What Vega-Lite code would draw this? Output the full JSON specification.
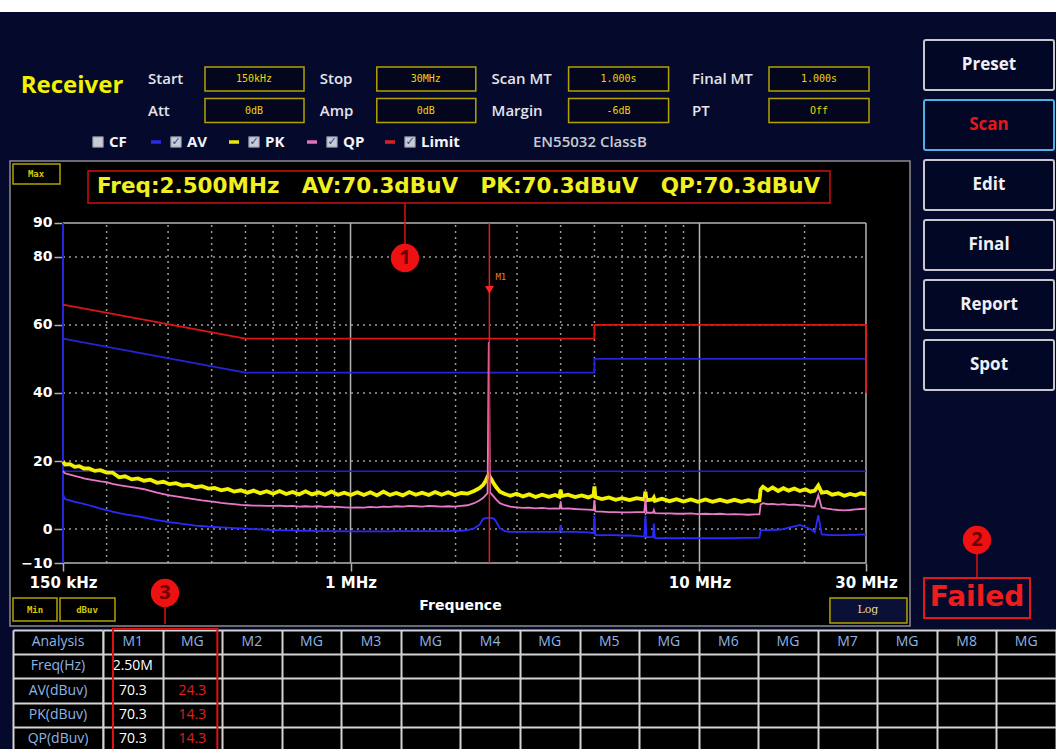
{
  "$schema": "https://vega.github.io/schema/vega-lite/v6.json",
  "padding": 0,
  "background": "#050a2c",
  "spacing": 0,
  "bounds": "full",
  "config": {"view": {"stroke": null}, "font": "Open Sans", "axis": {"grid": false}},
  "datasets": {
    "params": [
      {"c": "c1", "r": "r1", "label": "Start", "value": "150kHz"},
      {"c": "c2", "r": "r1", "label": "Stop", "value": "30MHz"},
      {"c": "c3", "r": "r1", "label": "Scan MT", "value": "1.000s"},
      {"c": "c4", "r": "r1", "label": "Final MT", "value": "1.000s"},
      {"c": "c1", "r": "r2", "label": "Att", "value": "0dB"},
      {"c": "c2", "r": "r2", "label": "Amp", "value": "0dB"},
      {"c": "c3", "r": "r2", "label": "Margin", "value": "-6dB"},
      {"c": "c4", "r": "r2", "label": "PT", "value": "Off"}
    ],
    "legend": [
      {"k": "CF", "chk": 0},
      {"k": "AV", "chk": 1},
      {"k": "PK", "chk": 1},
      {"k": "QP", "chk": 1},
      {"k": "Limit", "chk": 1}
    ],
    "hgrid": [{"v": 80}, {"v": 60}, {"v": 40}, {"v": 20}, {"v": 0}],
    "vgrid": [{"f": 0.2}, {"f": 0.3}, {"f": 0.4}, {"f": 0.5}, {"f": 0.6}, {"f": 0.7}, {"f": 0.8}, {"f": 0.9}, {"f": 2}, {"f": 3}, {"f": 4}, {"f": 5}, {"f": 6}, {"f": 7}, {"f": 8}, {"f": 9}, {"f": 20}],
    "lim": [
      {"lim": "QP", "i": 0, "f": 0.15, "v": 66}, {"lim": "QP", "i": 1, "f": 0.5, "v": 56}, {"lim": "QP", "i": 2, "f": 5, "v": 56}, {"lim": "QP", "i": 3, "f": 5, "v": 60}, {"lim": "QP", "i": 4, "f": 30, "v": 60}, {"lim": "QP", "i": 5, "f": 30, "v": 40},
      {"lim": "AV", "i": 0, "f": 0.15, "v": 56}, {"lim": "AV", "i": 1, "f": 0.5, "v": 46}, {"lim": "AV", "i": 2, "f": 5, "v": 46}, {"lim": "AV", "i": 3, "f": 5, "v": 50}, {"lim": "AV", "i": 4, "f": 30, "v": 50}
    ],
    "marker": [{"m": "M1", "f": 2.5, "av": 70.3, "pk": 70.3, "qp": 70.3}],
    "tr": [
      {"f":0.150,"pk":19.8,"qp":17.0,"av":10.2},{"f":0.152,"pk":19.0,"qp":16.4,"av":8.8},{"f":0.157,"pk":19.1,"qp":16.0,"av":8.4},{"f":0.162,"pk":18.3,"qp":15.6,"av":8.0},{"f":0.167,"pk":18.5,"qp":15.3,"av":7.7},{"f":0.172,"pk":17.8,"qp":14.9,"av":7.4},{"f":0.178,"pk":17.8,"qp":14.6,"av":7.0},{"f":0.185,"pk":17.1,"qp":14.3,"av":6.5},{"f":0.192,"pk":17.3,"qp":14.0,"av":6.0},{"f":0.200,"pk":16.6,"qp":13.8,"av":5.6},
      {"f":0.208,"pk":16.6,"qp":13.3,"av":5.1},{"f":0.217,"pk":15.2,"qp":12.9,"av":4.7},{"f":0.226,"pk":15.5,"qp":12.6,"av":4.3},{"f":0.236,"pk":14.6,"qp":12.3,"av":4.0},{"f":0.246,"pk":14.9,"qp":12.0,"av":3.7},{"f":0.256,"pk":14.2,"qp":11.7,"av":3.4},{"f":0.267,"pk":14.5,"qp":11.2,"av":3.0},{"f":0.279,"pk":13.6,"qp":10.7,"av":2.6},{"f":0.291,"pk":13.9,"qp":10.3,"av":2.3},{"f":0.303,"pk":13.2,"qp":9.9,"av":2.0},
      {"f":0.316,"pk":13.5,"qp":9.6,"av":1.8},{"f":0.330,"pk":12.8,"qp":9.3,"av":1.5},{"f":0.344,"pk":13.0,"qp":9.0,"av":1.3},{"f":0.359,"pk":12.3,"qp":8.7,"av":1.0},{"f":0.375,"pk":12.6,"qp":8.4,"av":0.9},{"f":0.391,"pk":11.9,"qp":8.2,"av":0.7},{"f":0.408,"pk":12.1,"qp":8.0,"av":0.6},{"f":0.426,"pk":11.4,"qp":7.7,"av":0.5},{"f":0.445,"pk":11.8,"qp":7.5,"av":0.4},{"f":0.464,"pk":11.0,"qp":7.3,"av":0.3},
      {"f":0.485,"pk":11.4,"qp":7.1,"av":0.2},{"f":0.506,"pk":10.7,"qp":7.0,"av":0.1},{"f":0.528,"pk":11.3,"qp":6.9,"av":0.0},{"f":0.551,"pk":10.5,"qp":6.9,"av":-0.1},{"f":0.575,"pk":11.1,"qp":6.8,"av":-0.2},{"f":0.600,"pk":10.4,"qp":6.8,"av":-0.3},{"f":0.626,"pk":11.2,"qp":6.9,"av":-0.3},{"f":0.654,"pk":10.3,"qp":6.7,"av":-0.4},{"f":0.682,"pk":10.9,"qp":6.8,"av":-0.4},{"f":0.712,"pk":10.2,"qp":6.6,"av":-0.5},
      {"f":0.743,"pk":11.1,"qp":6.7,"av":-0.5},{"f":0.776,"pk":10.2,"qp":6.6,"av":-0.5},{"f":0.810,"pk":10.8,"qp":6.7,"av":-0.6},{"f":0.845,"pk":10.1,"qp":6.5,"av":-0.6},{"f":0.882,"pk":11.0,"qp":6.6,"av":-0.6},{"f":0.920,"pk":10.1,"qp":6.5,"av":-0.6},{"f":0.960,"pk":10.7,"qp":6.4,"av":-0.7},{"f":1.002,"pk":10.0,"qp":6.3,"av":-0.7},{"f":1.046,"pk":10.8,"qp":6.4,"av":-0.7},{"f":1.092,"pk":10.0,"qp":6.3,"av":-0.7},
      {"f":1.140,"pk":10.8,"qp":6.5,"av":-0.7},{"f":1.190,"pk":9.9,"qp":6.4,"av":-0.7},{"f":1.242,"pk":11.0,"qp":6.6,"av":-0.7},{"f":1.296,"pk":10.0,"qp":6.5,"av":-0.7},{"f":1.353,"pk":10.6,"qp":6.7,"av":-0.6},{"f":1.412,"pk":9.9,"qp":6.6,"av":-0.6},{"f":1.474,"pk":10.9,"qp":6.8,"av":-0.6},{"f":1.538,"pk":10.1,"qp":6.7,"av":-0.6},{"f":1.605,"pk":10.7,"qp":6.6,"av":-0.6},{"f":1.675,"pk":10.0,"qp":6.8,"av":-0.6},
      {"f":1.748,"pk":10.9,"qp":6.7,"av":-0.6},{"f":1.825,"pk":10.1,"qp":6.6,"av":-0.6},{"f":1.905,"pk":10.8,"qp":6.7,"av":-0.6},{"f":1.988,"pk":10.0,"qp":6.6,"av":-0.5},{"f":2.075,"pk":10.6,"qp":6.8,"av":-0.5},{"f":2.165,"pk":10.4,"qp":7.0,"av":-0.3},{"f":2.260,"pk":11.2,"qp":7.6,"av":0.2},{"f":2.340,"pk":12.0,"qp":8.4,"av":1.2},{"f":2.400,"pk":13.0,"qp":9.2,"av":3.0},{"f":2.440,"pk":14.2,"qp":10.0,"av":3.2},
      {"f":2.470,"pk":15.4,"qp":10.6,"av":3.3},{"f":2.490,"pk":16.0,"qp":55.0,"av":3.3},{"f":2.510,"pk":15.2,"qp":10.8,"av":3.3},{"f":2.540,"pk":14.4,"qp":10.2,"av":3.2},{"f":2.580,"pk":13.2,"qp":9.4,"av":3.0},{"f":2.620,"pk":12.2,"qp":8.6,"av":2.0},{"f":2.680,"pk":11.0,"qp":7.6,"av":0.2},{"f":2.770,"pk":10.3,"qp":7.0,"av":-0.6},{"f":2.870,"pk":9.8,"qp":6.6,"av":-0.8},{"f":2.990,"pk":10.4,"qp":6.4,"av":-0.8},
      {"f":3.120,"pk":9.6,"qp":6.2,"av":-0.8},{"f":3.250,"pk":10.2,"qp":6.3,"av":-0.8},{"f":3.390,"pk":9.4,"qp":6.1,"av":-0.8},{"f":3.540,"pk":10.1,"qp":6.2,"av":-0.8},{"f":3.700,"pk":9.5,"qp":6.0,"av":-0.8},{"f":3.860,"pk":10.0,"qp":6.1,"av":-0.8},{"f":3.970,"pk":9.5,"qp":6.0,"av":-0.8},{"f":4.000,"pk":11.5,"qp":7.8,"av":1.1},{"f":4.030,"pk":9.7,"qp":6.0,"av":-0.8},{"f":4.200,"pk":10.1,"qp":6.1,"av":-0.8},
      {"f":4.400,"pk":9.4,"qp":5.9,"av":-0.8},{"f":4.600,"pk":9.9,"qp":5.8,"av":-0.9},{"f":4.800,"pk":9.3,"qp":5.7,"av":-1.0},{"f":4.970,"pk":9.9,"qp":5.6,"av":-1.2},{"f":5.000,"pk":12.5,"qp":8.5,"av":4.0},{"f":5.030,"pk":9.4,"qp":5.2,"av":-1.8},{"f":5.250,"pk":8.8,"qp":5.1,"av":-1.8},{"f":5.500,"pk":9.3,"qp":5.0,"av":-1.8},{"f":5.750,"pk":8.6,"qp":5.0,"av":-1.8},{"f":6.000,"pk":9.1,"qp":4.9,"av":-1.9},
      {"f":6.300,"pk":8.5,"qp":4.9,"av":-1.9},{"f":6.600,"pk":9.1,"qp":5.0,"av":-2.0},{"f":6.950,"pk":8.7,"qp":5.0,"av":-2.2},{"f":7.000,"pk":11.0,"qp":9.2,"av":4.0},{"f":7.050,"pk":8.5,"qp":4.8,"av":-2.4},{"f":7.350,"pk":8.7,"qp":4.8,"av":-2.4},{"f":7.400,"pk":9.2,"qp":5.6,"av":1.6},{"f":7.450,"pk":8.3,"qp":4.7,"av":-2.6},{"f":7.800,"pk":8.9,"qp":4.6,"av":-2.7},{"f":8.200,"pk":8.2,"qp":4.6,"av":-2.7},
      {"f":8.600,"pk":8.8,"qp":4.5,"av":-2.7},{"f":9.000,"pk":8.1,"qp":4.5,"av":-2.7},{"f":9.450,"pk":8.7,"qp":4.6,"av":-2.7},{"f":9.900,"pk":8.0,"qp":4.4,"av":-2.7},{"f":10.40,"pk":8.7,"qp":4.5,"av":-2.7},{"f":10.90,"pk":8.0,"qp":4.4,"av":-2.7},{"f":11.45,"pk":8.6,"qp":4.5,"av":-2.7},{"f":12.00,"pk":8.0,"qp":4.3,"av":-2.7},{"f":12.60,"pk":8.6,"qp":4.4,"av":-2.7},{"f":13.20,"pk":8.0,"qp":4.3,"av":-2.6},
      {"f":13.80,"pk":8.5,"qp":4.2,"av":-2.6},{"f":14.40,"pk":8.1,"qp":4.3,"av":-2.6},{"f":14.85,"pk":8.4,"qp":4.3,"av":-2.5},{"f":14.97,"pk":11.6,"qp":7.2,"av":-0.4},{"f":15.20,"pk":12.4,"qp":7.6,"av":-0.3},{"f":15.70,"pk":11.4,"qp":7.3,"av":-0.3},{"f":16.20,"pk":12.2,"qp":7.4,"av":-0.2},{"f":16.80,"pk":11.2,"qp":7.2,"av":-0.2},{"f":17.40,"pk":12.0,"qp":7.3,"av":0.0},{"f":18.00,"pk":11.3,"qp":7.1,"av":0.4},
      {"f":18.70,"pk":11.9,"qp":7.2,"av":0.8},{"f":19.40,"pk":11.2,"qp":7.0,"av":1.2},{"f":20.10,"pk":11.7,"qp":6.9,"av":0.6},{"f":20.80,"pk":11.0,"qp":6.7,"av":0.0},{"f":21.40,"pk":11.3,"qp":6.6,"av":-1.0},{"f":21.90,"pk":12.8,"qp":10.0,"av":4.1},{"f":22.40,"pk":10.7,"qp":6.3,"av":-1.6},{"f":23.20,"pk":10.9,"qp":6.0,"av":-1.7},{"f":24.00,"pk":10.1,"qp":5.8,"av":-1.8},{"f":25.00,"pk":10.5,"qp":5.6,"av":-1.8},
      {"f":26.00,"pk":9.8,"qp":5.5,"av":-1.8},{"f":27.00,"pk":10.3,"qp":5.6,"av":-1.7},{"f":28.00,"pk":9.9,"qp":5.8,"av":-1.7},{"f":29.00,"pk":10.5,"qp":5.9,"av":-1.6},{"f":30.00,"pk":10.2,"qp":6.0,"av":-1.6}
    ],
    "buttons": [{"b": "Preset"}, {"b": "Scan"}, {"b": "Edit"}, {"b": "Final"}, {"b": "Report"}, {"b": "Spot"}],
    "anal": [{"r": "hdr", "t": "Analysis"}, {"r": "Freq", "t": "Freq(Hz)"}, {"r": "AV", "t": "AV(dBuv)"}, {"r": "PK", "t": "PK(dBuv)"}, {"r": "QP", "t": "QP(dBuv)"}],
    "cells": [
      {"r": "hdr", "c": "M1", "t": "M1", "k": "h"}, {"r": "hdr", "c": "G1", "t": "MG", "k": "h"},
      {"r": "hdr", "c": "M2", "t": "M2", "k": "h"}, {"r": "hdr", "c": "G2", "t": "MG", "k": "h"},
      {"r": "hdr", "c": "M3", "t": "M3", "k": "h"}, {"r": "hdr", "c": "G3", "t": "MG", "k": "h"},
      {"r": "hdr", "c": "M4", "t": "M4", "k": "h"}, {"r": "hdr", "c": "G4", "t": "MG", "k": "h"},
      {"r": "hdr", "c": "M5", "t": "M5", "k": "h"}, {"r": "hdr", "c": "G5", "t": "MG", "k": "h"},
      {"r": "hdr", "c": "M6", "t": "M6", "k": "h"}, {"r": "hdr", "c": "G6", "t": "MG", "k": "h"},
      {"r": "hdr", "c": "M7", "t": "M7", "k": "h"}, {"r": "hdr", "c": "G7", "t": "MG", "k": "h"},
      {"r": "hdr", "c": "M8", "t": "M8", "k": "h"}, {"r": "hdr", "c": "G8", "t": "MG", "k": "h"},
      {"r": "Freq", "c": "M1", "t": "2.50M", "k": "v"},
      {"r": "AV", "c": "M1", "t": "70.3", "k": "v"}, {"r": "AV", "c": "G1", "t": "24.3", "k": "m"},
      {"r": "PK", "c": "M1", "t": "70.3", "k": "v"}, {"r": "PK", "c": "G1", "t": "14.3", "k": "m"},
      {"r": "QP", "c": "M1", "t": "70.3", "k": "v"}, {"r": "QP", "c": "G1", "t": "14.3", "k": "m"}
    ]
  },
  "vconcat": [
    {"width": 1056, "height": 12, "view": {"fill": "#ffffff"}, "data": {"values": []}, "mark": "point"},
    {
      "hconcat": [
        {
          "vconcat": [
            {
              "width": 916, "height": 148,
              "resolve": {"scale": {"x": "independent"}},
              "layer": [
                {
                  "data": {"name": "params"},
                  "layer": [
                    {
                      "transform": [{"filter": "datum.c === 'c1' || datum.c === 'c2'"}],
                      "mark": {"type": "rect", "fill": "#03061c", "stroke": "#b3a200", "strokeWidth": 1.5, "xOffset": 57, "x2Offset": 156, "yOffset": -12, "y2Offset": 12},
                      "encoding": {
                        "x": {"field": "c", "type": "nominal", "scale": {"type": "point", "domain": ["c1", "s1", "s2", "s3", "s4", "s5", "c2", "s6", "s7", "s8", "s9", "s10", "c3", "s11", "s12", "s13", "s14", "s15", "s16", "c4"], "range": [148, 692], "padding": 0}, "axis": null},
                        "x2": {"field": "c"},
                        "y": {"field": "r", "type": "nominal", "scale": {"type": "point", "domain": ["r1", "r2", "r3"], "range": [67, 130], "padding": 0}, "axis": null},
                        "y2": {"field": "r"}
                      }
                    },
                    {
                      "transform": [{"filter": "datum.c === 'c3' || datum.c === 'c4'"}],
                      "mark": {"type": "rect", "fill": "#03061c", "stroke": "#b3a200", "strokeWidth": 1.5, "xOffset": 77, "x2Offset": 177, "yOffset": -12, "y2Offset": 12},
                      "encoding": {"x": {"field": "c", "type": "nominal", "axis": null}, "x2": {"field": "c"}, "y": {"field": "r", "type": "nominal", "axis": null}, "y2": {"field": "r"}}
                    },
                    {
                      "mark": {"type": "text", "align": "left", "baseline": "middle", "fontSize": 15, "fontWeight": 600, "color": "#e4e4ea"},
                      "encoding": {"x": {"field": "c", "type": "nominal", "axis": null}, "y": {"field": "r", "type": "nominal", "axis": null}, "text": {"field": "label"}}
                    },
                    {
                      "transform": [{"filter": "datum.c === 'c1' || datum.c === 'c2'"}],
                      "mark": {"type": "text", "align": "center", "baseline": "middle", "fontSize": 10, "font": "DejaVu Sans Mono", "color": "#e8d800", "dx": 106},
                      "encoding": {"x": {"field": "c", "type": "nominal", "axis": null}, "y": {"field": "r", "type": "nominal", "axis": null}, "text": {"field": "value"}}
                    },
                    {
                      "transform": [{"filter": "datum.c === 'c3' || datum.c === 'c4'"}],
                      "mark": {"type": "text", "align": "center", "baseline": "middle", "fontSize": 10, "font": "DejaVu Sans Mono", "color": "#e8d800", "dx": 127},
                      "encoding": {"x": {"field": "c", "type": "nominal", "axis": null}, "y": {"field": "r", "type": "nominal", "axis": null}, "text": {"field": "value"}}
                    }
                  ]
                },
                {
                  "data": {"values": [{"t": "Receiver"}]},
                  "mark": {"type": "text", "fontSize": 24, "fontWeight": "bold", "color": "#f2f200", "baseline": "middle", "dy": 7},
                  "encoding": {
                    "x": {"datum": "Receiver", "type": "nominal", "scale": {"type": "point", "range": [0, 144], "padding": 0.5}, "axis": null},
                    "y": {"datum": "r1", "type": "nominal", "axis": null},
                    "text": {"field": "t"}
                  }
                },
                {
                  "data": {"name": "legend"},
                  "layer": [
                    {
                      "mark": {"type": "point", "shape": "M-1,-0.35L1,-0.35L1,0.35L-1,0.35Z", "size": 100, "filled": true, "opacity": 1, "xOffset": -20},
                      "encoding": {
                        "x": {"field": "k", "type": "nominal", "scale": {"type": "point", "domain": ["CF", "AV", "PK", "QP", "Limit"], "range": [98, 410], "padding": 0}, "axis": null},
                        "y": {"datum": "r3", "type": "nominal", "axis": null},
                        "color": {"condition": [
                          {"test": "datum.k === 'AV'", "value": "#2a2ae8"},
                          {"test": "datum.k === 'PK'", "value": "#e8e800"},
                          {"test": "datum.k === 'QP'", "value": "#e070b8"},
                          {"test": "datum.k === 'Limit'", "value": "#e02020"}
                        ], "value": "rgba(0,0,0,0)"}
                      }
                    },
                    {
                      "mark": {"type": "point", "shape": "square", "size": 110, "filled": true, "opacity": 1, "fill": "#c9cbd6", "stroke": "#7d8090", "strokeWidth": 1},
                      "encoding": {"x": {"field": "k", "type": "nominal", "axis": null}, "y": {"datum": "r3", "type": "nominal", "axis": null}}
                    },
                    {
                      "transform": [{"filter": "datum.chk == 1"}],
                      "mark": {"type": "text", "text": "✓", "fontSize": 11, "fontWeight": "bold", "font": "DejaVu Sans", "color": "#2a447e", "baseline": "middle"},
                      "encoding": {"x": {"field": "k", "type": "nominal", "axis": null}, "y": {"datum": "r3", "type": "nominal", "axis": null}}
                    },
                    {
                      "mark": {"type": "text", "align": "left", "baseline": "middle", "dx": 11, "fontSize": 15, "fontWeight": "bold", "color": "#f4f4f8"},
                      "encoding": {"x": {"field": "k", "type": "nominal", "axis": null}, "y": {"datum": "r3", "type": "nominal", "axis": null}, "text": {"field": "k"}}
                    },
                    {
                      "data": {"values": [{"t": "EN55032 ClassB"}]},
                      "mark": {"type": "text", "align": "left", "baseline": "middle", "dx": 123, "fontSize": 15, "fontWeight": 600, "color": "#c9c9d2"},
                      "encoding": {"x": {"datum": "Limit", "type": "nominal", "axis": null}, "y": {"datum": "r3", "type": "nominal", "axis": null}, "text": {"field": "t"}}
                    }
                  ]
                }
              ]
            },
            {
              "hconcat": [
                {"width": 10, "height": 465, "data": {"values": []}, "mark": "point"},
                {
                  "width": 900, "height": 465,
                  "view": {"fill": "#000000", "stroke": "#8c8c8c", "strokeWidth": 1.5},
                  "layer": [
                    {
                      "data": {"name": "hgrid"},
                      "mark": {"type": "rule", "color": "#9a9a9a", "strokeDash": [2, 4], "strokeWidth": 1.5},
                      "encoding": {
                        "y": {"field": "v", "type": "quantitative", "scale": {"domain": [-28.5, 108.2], "nice": false, "zero": false},
                          "axis": {"orient": "left", "offset": -53, "values": [-10, 0, 20, 40, 60, 80, 90], "domain": false, "grid": false, "ticks": true, "tickColor": "#b0b0b0", "tickSize": 9, "tickWidth": 1.5, "labelColor": "#ffffff", "labelFont": "DejaVu Sans", "labelFontSize": 14, "labelFontWeight": "bold", "labelPadding": 2, "labelOverlap": false, "labelBound": false, "labelFlush": false, "title": null, "minExtent": 0}},
                        "x": {"datum": 0.15, "scale": {"type": "log", "domain": [0.105728, 40.107], "nice": false},
                          "axis": {"orient": "bottom", "offset": -63, "values": [0.15, 1, 10, 30], "labelExpr": "datum.value < 0.2 ? '150 kHz' : datum.value < 2 ? '1 MHz' : datum.value < 20 ? '10 MHz' : '30 MHz'", "domain": false, "grid": false, "ticks": true, "tickColor": "#b0b0b0", "tickSize": 8, "tickWidth": 1.5, "labelColor": "#ffffff", "labelFont": "DejaVu Sans", "labelFontSize": 15, "labelFontWeight": "bold", "labelPadding": 4, "labelOverlap": false, "labelBound": false, "labelFlush": false, "title": "Frequence", "titleColor": "#ffffff", "titleFont": "DejaVu Sans", "titleFontSize": 14, "titleFontWeight": "bold", "titlePadding": 8, "minExtent": 0}},
                        "x2": {"datum": 30}
                      }
                    },
                    {
                      "data": {"name": "vgrid"},
                      "mark": {"type": "rule", "color": "#9a9a9a", "strokeDash": [2, 4], "strokeWidth": 1.5},
                      "encoding": {"x": {"field": "f", "type": "quantitative"}, "y": {"datum": -10}, "y2": {"datum": 90}}
                    },
                    {
                      "data": {"values": [{"v": 90}, {"v": -10}]},
                      "mark": {"type": "rule", "color": "#b4b4b4", "strokeWidth": 1.5},
                      "encoding": {"y": {"field": "v", "type": "quantitative"}, "x": {"datum": 0.15}, "x2": {"datum": 30}}
                    },
                    {
                      "data": {"values": [{"f": 1}, {"f": 10}, {"f": 30}]},
                      "mark": {"type": "rule", "color": "#b4b4b4", "strokeWidth": 1.5},
                      "encoding": {"x": {"field": "f", "type": "quantitative"}, "y": {"datum": -10}, "y2": {"datum": 90}}
                    },
                    {
                      "data": {"values": [{"f": 0.15}]},
                      "mark": {"type": "rule", "color": "#2626e0", "strokeWidth": 2},
                      "encoding": {"x": {"field": "f", "type": "quantitative"}, "y": {"datum": -10}, "y2": {"datum": 90}}
                    },
                    {
                      "data": {"values": [{"v": 17}]},
                      "mark": {"type": "rule", "color": "#2020d8", "strokeWidth": 1.6},
                      "encoding": {"y": {"field": "v", "type": "quantitative"}, "x": {"datum": 0.15}, "x2": {"datum": 30}}
                    },
                    {
                      "data": {"name": "lim"},
                      "transform": [{"filter": "datum.lim === 'AV'"}],
                      "mark": {"type": "line", "strokeWidth": 1.8, "color": "#2424d8"},
                      "encoding": {"x": {"field": "f", "type": "quantitative"}, "y": {"field": "v", "type": "quantitative"}, "order": {"field": "i", "type": "quantitative"}}
                    },
                    {
                      "data": {"name": "lim"},
                      "transform": [{"filter": "datum.lim === 'QP'"}],
                      "mark": {"type": "line", "strokeWidth": 1.8, "color": "#e01414"},
                      "encoding": {"x": {"field": "f", "type": "quantitative"}, "y": {"field": "v", "type": "quantitative"}, "order": {"field": "i", "type": "quantitative"}}
                    },
                    {
                      "data": {"name": "tr"},
                      "mark": {"type": "line", "color": "#f2f200", "strokeWidth": 3.8},
                      "encoding": {"x": {"field": "f", "type": "quantitative"}, "y": {"field": "pk", "type": "quantitative"}}
                    },
                    {
                      "data": {"name": "tr"},
                      "mark": {"type": "line", "color": "#e878c8", "strokeWidth": 1.8},
                      "encoding": {"x": {"field": "f", "type": "quantitative"}, "y": {"field": "qp", "type": "quantitative"}}
                    },
                    {
                      "data": {"name": "tr"},
                      "mark": {"type": "line", "color": "#2a2aff", "strokeWidth": 1.8},
                      "encoding": {"x": {"field": "f", "type": "quantitative"}, "y": {"field": "av", "type": "quantitative"}}
                    },
                    {
                      "data": {"name": "marker"},
                      "mark": {"type": "rule", "color": "#e02020", "strokeWidth": 1.5},
                      "encoding": {"x": {"field": "f", "type": "quantitative"}, "y": {"datum": -10}, "y2": {"datum": 90}}
                    },
                    {
                      "data": {"name": "marker"},
                      "mark": {"type": "point", "shape": "triangle-down", "size": 80, "filled": true, "color": "#ff2020", "opacity": 1},
                      "encoding": {"x": {"field": "f", "type": "quantitative"}, "y": {"field": "av", "type": "quantitative"}}
                    },
                    {
                      "data": {"name": "marker"},
                      "mark": {"type": "text", "align": "left", "dx": 6, "dy": -13, "fontSize": 9, "font": "DejaVu Sans Mono", "color": "#e88020"},
                      "encoding": {"x": {"field": "f", "type": "quantitative"}, "y": {"field": "av", "type": "quantitative"}, "text": {"field": "m"}}
                    },
                    {
                      "data": {"values": [{}]},
                      "mark": {"type": "rect", "fill": "transparent", "stroke": "#d01010", "strokeWidth": 1.5},
                      "encoding": {"x": {"datum": 0.17691}, "x2": {"datum": 23.65}, "y": {"datum": 105.26}, "y2": {"datum": 95.85}}
                    },
                    {
                      "data": {"name": "marker"},
                      "mark": {"type": "text", "text": "Freq:2.500MHz\u00a0\u00a0 AV:70.3dBuV\u00a0\u00a0 PK:70.3dBuV\u00a0\u00a0 QP:70.3dBuV", "align": "left", "baseline": "middle", "font": "DejaVu Sans", "fontSize": 21.5, "fontWeight": "bold", "color": "#f0f020"},
                      "encoding": {"x": {"datum": 0.18774}, "y": {"datum": 100.56}}
                    },
                    {
                      "data": {"values": [{}]},
                      "mark": {"type": "rule", "color": "#e01010", "strokeWidth": 1.5},
                      "encoding": {"x": {"datum": 1.4323}, "y": {"datum": 79.68}, "y2": {"datum": 95.85}}
                    },
                    {
                      "data": {"values": [{}]},
                      "mark": {"type": "point", "shape": "circle", "size": 800, "filled": true, "color": "#ee1111", "opacity": 1},
                      "encoding": {"x": {"datum": 1.4323}, "y": {"datum": 79.68}}
                    },
                    {
                      "data": {"values": [{}]},
                      "mark": {"type": "text", "text": "1", "baseline": "middle", "fontSize": 20, "fontWeight": "bold", "color": "#6e0000"},
                      "encoding": {"x": {"datum": 1.4323}, "y": {"datum": 79.68}}
                    },
                    {
                      "data": {"values": [{}]},
                      "mark": {"type": "rect", "fill": "#000000", "stroke": "#b3a200", "strokeWidth": 1.5},
                      "encoding": {"x": {"datum": 0.10784}, "x2": {"datum": 0.14706}, "y": {"datum": 107.32}, "y2": {"datum": 101.44}}
                    },
                    {
                      "data": {"values": [{}]},
                      "mark": {"type": "text", "text": "Max", "baseline": "middle", "fontSize": 9, "fontWeight": "bold", "font": "DejaVu Sans Mono", "color": "#d8c800"},
                      "encoding": {"x": {"datum": 0.12552}, "y": {"datum": 104.38}}
                    },
                    {
                      "data": {"values": [{}]},
                      "mark": {"type": "rect", "fill": "#000000", "stroke": "#b3a200", "strokeWidth": 1.5},
                      "encoding": {"x": {"datum": 0.10784}, "x2": {"datum": 0.14417}, "y": {"datum": -20.27}, "y2": {"datum": -27.03}}
                    },
                    {
                      "data": {"values": [{}]},
                      "mark": {"type": "text", "text": "Min", "baseline": "middle", "fontSize": 9, "fontWeight": "bold", "font": "DejaVu Sans Mono", "color": "#d8c800"},
                      "encoding": {"x": {"datum": 0.12469}, "y": {"datum": -23.65}}
                    },
                    {
                      "data": {"values": [{}]},
                      "mark": {"type": "rect", "fill": "#000000", "stroke": "#b3a200", "strokeWidth": 1.5},
                      "encoding": {"x": {"datum": 0.14706}, "x2": {"datum": 0.21138}, "y": {"datum": -20.27}, "y2": {"datum": -27.03}}
                    },
                    {
                      "data": {"values": [{}]},
                      "mark": {"type": "text", "text": "dBuv", "baseline": "middle", "fontSize": 9, "fontWeight": "bold", "font": "DejaVu Sans Mono", "color": "#d8c800"},
                      "encoding": {"x": {"datum": 0.17575}, "y": {"datum": -23.65}}
                    },
                    {
                      "data": {"values": [{}]},
                      "mark": {"type": "rect", "fill": "#0a1036", "stroke": "#b3a200", "strokeWidth": 1.5},
                      "encoding": {"x": {"datum": 23.65}, "x2": {"datum": 39.32}, "y": {"datum": -20.27}, "y2": {"datum": -27.62}}
                    },
                    {
                      "data": {"values": [{}]},
                      "mark": {"type": "text", "text": "Log", "baseline": "middle", "fontSize": 11, "font": "DejaVu Serif", "color": "#e8d890"},
                      "encoding": {"x": {"datum": 30.38}, "y": {"datum": -23.94}}
                    },
                    {
                      "data": {"values": [{}]},
                      "mark": {"type": "rule", "color": "#e01010", "strokeWidth": 1.5},
                      "encoding": {"x": {"datum": 0.29401}, "y": {"datum": -18.8}, "y2": {"datum": -27.9}}
                    },
                    {
                      "data": {"values": [{}]},
                      "mark": {"type": "point", "shape": "circle", "size": 800, "filled": true, "color": "#ee1111", "opacity": 1},
                      "encoding": {"x": {"datum": 0.29401}, "y": {"datum": -18.8}}
                    },
                    {
                      "data": {"values": [{}]},
                      "mark": {"type": "text", "text": "3", "baseline": "middle", "fontSize": 20, "fontWeight": "bold", "color": "#6e0000"},
                      "encoding": {"x": {"datum": 0.29401}, "y": {"datum": -18.8}}
                    }
                  ]
                }
              ],
              "spacing": 0,
              "bounds": "flush"
            }
          ],
          "spacing": 0,
          "bounds": "full"
        },
        {
          "vconcat": [
            {
              "width": 140, "height": 406,
              "data": {"name": "buttons"},
              "layer": [
                {
                  "mark": {"type": "rect", "fill": "#030726", "strokeWidth": 2, "cornerRadius": 2},
                  "encoding": {
                    "x": {"datum": "btn", "type": "nominal", "scale": {"domain": ["btn"], "paddingInner": 0, "paddingOuter": 0.0385, "align": 0.8}, "axis": null},
                    "y": {"field": "b", "type": "nominal", "scale": {"domain": ["Preset", "Scan", "Edit", "Final", "Report", "Spot"], "paddingInner": 0.1667, "paddingOuter": 0.4667}, "axis": null},
                    "stroke": {"condition": {"test": "datum.b === 'Scan'", "value": "#4fb0e6"}, "value": "#c8c8ce"}
                  }
                },
                {
                  "mark": {"type": "text", "fontSize": 17, "fontWeight": "bold", "baseline": "middle"},
                  "encoding": {
                    "x": {"datum": "btn", "type": "nominal", "axis": null},
                    "y": {"field": "b", "type": "nominal", "axis": null},
                    "text": {"field": "b"},
                    "color": {"condition": {"test": "datum.b === 'Scan'", "value": "#e01a1a"}, "value": "#f0f0f4"}
                  }
                }
              ]
            },
            {"width": 140, "height": 102, "data": {"values": []}, "mark": "point"},
            {
              "width": 140, "height": 98,
              "data": {"values": [{}]},
              "layer": [
                {
                  "mark": {"type": "rule", "color": "#e01010", "strokeWidth": 1.5},
                  "encoding": {
                    "x": {"datum": "f", "type": "nominal", "scale": {"domain": ["f"], "paddingInner": 0, "paddingOuter": 0.1604, "align": 0.2353}, "axis": null},
                    "y": {"datum": "badge", "type": "nominal", "scale": {"domain": ["badge", "status"], "paddingInner": 0.3103, "paddingOuter": 0}, "axis": null},
                    "y2": {"datum": "status"}
                  }
                },
                {
                  "mark": {"type": "rect", "fill": "#050a2c", "stroke": "#e41818", "strokeWidth": 2},
                  "encoding": {"x": {"datum": "f", "type": "nominal", "axis": null}, "y": {"datum": "status", "type": "nominal", "axis": null}}
                },
                {
                  "mark": {"type": "point", "shape": "circle", "size": 800, "filled": true, "color": "#ee1111", "opacity": 1},
                  "encoding": {"x": {"datum": "f", "type": "nominal", "axis": null}, "y": {"datum": "badge", "type": "nominal", "axis": null}}
                },
                {
                  "mark": {"type": "text", "text": "2", "baseline": "middle", "fontSize": 20, "fontWeight": "bold", "color": "#6e0000"},
                  "encoding": {"x": {"datum": "f", "type": "nominal", "axis": null}, "y": {"datum": "badge", "type": "nominal", "axis": null}}
                },
                {
                  "mark": {"type": "text", "text": "Failed", "baseline": "middle", "font": "DejaVu Sans", "fontSize": 28, "fontWeight": "bold", "color": "#ee1c1c"},
                  "encoding": {"x": {"datum": "f", "type": "nominal", "axis": null}, "y": {"datum": "status", "type": "nominal", "axis": null}}
                }
              ]
            },
            {"width": 140, "height": 10, "data": {"values": []}, "mark": "point"}
          ],
          "spacing": 0,
          "bounds": "flush"
        }
      ],
      "spacing": 0,
      "bounds": "full"
    },
    {
      "hconcat": [
        {"width": 13, "height": 121, "data": {"values": []}, "mark": "point"},
        {
          "width": 90, "height": 121,
          "view": {"fill": "#000000"},
          "data": {"name": "anal"},
          "mark": {"type": "text", "fontSize": 14, "color": "#8fb4e4", "baseline": "middle"},
          "encoding": {
            "x": {"datum": "A", "type": "nominal", "scale": {"domain": ["A"], "paddingInner": 0, "paddingOuter": 0},
              "axis": {"grid": true, "tickBand": "extent", "labels": false, "ticks": false, "domain": false, "title": null, "gridColor": "#d4d4d4", "gridWidth": 2, "gridOpacity": 1}},
            "y": {"field": "r", "type": "nominal", "scale": {"domain": ["hdr", "Freq", "AV", "PK", "QP"], "paddingInner": 0, "paddingOuter": 0},
              "axis": {"grid": true, "tickBand": "extent", "labels": false, "ticks": false, "domain": false, "title": null, "gridColor": "#d4d4d4", "gridWidth": 2, "gridOpacity": 1}},
            "text": {"field": "t"}
          }
        },
        {
          "width": 953, "height": 121,
          "view": {"fill": "#000000"},
          "layer": [
            {
              "data": {"name": "cells"},
              "mark": {"type": "text", "fontSize": 14, "baseline": "middle"},
              "encoding": {
                "x": {"field": "c", "type": "nominal", "scale": {"domain": ["M1", "G1", "M2", "G2", "M3", "G3", "M4", "G4", "M5", "G5", "M6", "G6", "M7", "G7", "M8", "G8"], "paddingInner": 0, "paddingOuter": 0},
                  "axis": {"grid": true, "tickBand": "extent", "labels": false, "ticks": false, "domain": false, "title": null, "gridColor": "#d4d4d4", "gridWidth": 2, "gridOpacity": 1}},
                "y": {"field": "r", "type": "nominal", "scale": {"domain": ["hdr", "Freq", "AV", "PK", "QP"], "paddingInner": 0, "paddingOuter": 0},
                  "axis": {"grid": true, "tickBand": "extent", "labels": false, "ticks": false, "domain": false, "title": null, "gridColor": "#d4d4d4", "gridWidth": 2, "gridOpacity": 1}},
                "text": {"field": "t"},
                "color": {"condition": [
                  {"test": "datum.k === 'h'", "value": "#8fb4e4"},
                  {"test": "datum.k === 'm'", "value": "#e02020"}
                ], "value": "#ffffff"}
              }
            },
            {
              "data": {"values": [{"a": "M1", "b": "G1"}]},
              "mark": {"type": "rect", "fill": "transparent", "stroke": "#e01010", "strokeWidth": 2, "xOffset": 10, "x2Offset": 25, "y2Offset": 4, "yOffset": -1},
              "encoding": {"x": {"field": "a", "type": "nominal", "bandPosition": 0}, "x2": {"field": "b"}}
            }
          ]
        }
      ],
      "spacing": 0,
      "bounds": "flush"
    }
  ]
}
